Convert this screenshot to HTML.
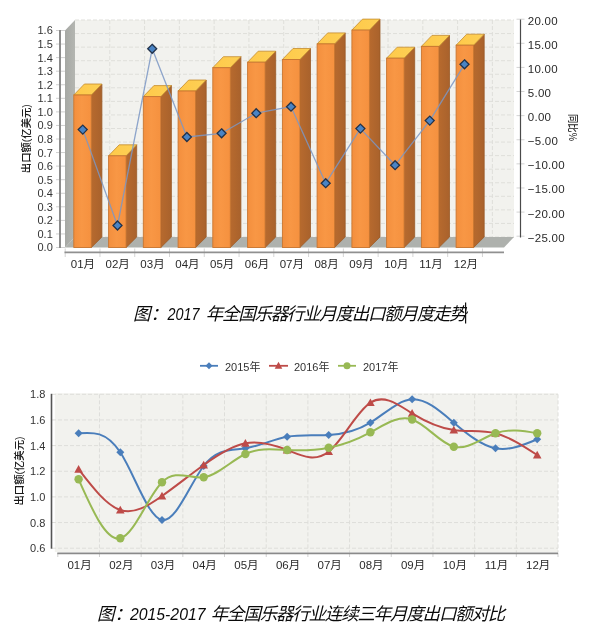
<!DOCTYPE html>
<html lang="zh"><head><meta charset="utf-8"><title>2017年全国乐器行业月度出口额</title>
<style>html,body{margin:0;padding:0;background:#fff;}body{width:600px;height:637px;overflow:hidden;}svg{display:block;}text{font-family:"Liberation Sans", "Noto Sans CJK SC", sans-serif;}</style>
</head><body>
<svg width="600" height="637" viewBox="0 0 600 637">
<defs>
<linearGradient id="gf" x1="0" y1="0" x2="1" y2="0"><stop offset="0" stop-color="#f38f3e"/><stop offset="0.45" stop-color="#f89745"/><stop offset="1" stop-color="#f5913f"/></linearGradient>
<linearGradient id="gs" x1="0" y1="0" x2="1" y2="0"><stop offset="0" stop-color="#b76a2e"/><stop offset="1" stop-color="#a9622c"/></linearGradient>
<linearGradient id="gt" x1="0" y1="0" x2="1" y2="0"><stop offset="0" stop-color="#ffc94a"/><stop offset="1" stop-color="#fdd055"/></linearGradient>
<linearGradient id="gw" x1="0" y1="0" x2="1" y2="0"><stop offset="0" stop-color="#a6a8a4"/><stop offset="1" stop-color="#b4b6b1"/></linearGradient>
</defs>
<rect width="600" height="637" fill="#ffffff"/>
<g id="chart1">
<rect x="75" y="20" width="439" height="217" fill="#f2f2ee"/>
<path d="M75 20.00H514M75 33.56H514M75 47.12H514M75 60.69H514M75 74.25H514M75 87.81H514M75 101.38H514M75 114.94H514M75 128.50H514M75 142.06H514M75 155.62H514M75 169.19H514M75 182.75H514M75 196.31H514M75 209.88H514M75 223.44H514M75 237.00H514M109.80 20V237M144.58 20V237M179.36 20V237M214.14 20V237M248.92 20V237M283.70 20V237M318.48 20V237M353.26 20V237M388.04 20V237M422.82 20V237M457.60 20V237M492.38 20V237" fill="none" stroke="#dfdfda" stroke-width="1" stroke-dasharray="4 2"/>
<polygon points="65,30.5 75,20 75,237 65,247.5" fill="url(#gw)"/>
<polygon points="65,247.5 75,237 514,237 504,247.5" fill="#aeb1ad"/>
<polygon points="91.3,95 101.9,84.0 101.9,237.0 91.3,247.5" fill="url(#gs)" stroke="#9a5a27" stroke-width="0.8"/>
<polygon points="73.8,95 84.4,84.0 101.9,84.0 91.3,95" fill="url(#gt)" stroke="#c48c2e" stroke-width="0.8"/>
<rect x="73.8" y="95" width="17.5" height="152.5" fill="url(#gf)" stroke="#c87630" stroke-width="0.9"/>
<polygon points="126.1,155.8 136.7,144.8 136.7,237.0 126.1,247.5" fill="url(#gs)" stroke="#9a5a27" stroke-width="0.8"/>
<polygon points="108.6,155.8 119.2,144.8 136.7,144.8 126.1,155.8" fill="url(#gt)" stroke="#c48c2e" stroke-width="0.8"/>
<rect x="108.6" y="155.8" width="17.5" height="91.7" fill="url(#gf)" stroke="#c87630" stroke-width="0.9"/>
<polygon points="160.8,96.6 171.4,85.6 171.4,237.0 160.8,247.5" fill="url(#gs)" stroke="#9a5a27" stroke-width="0.8"/>
<polygon points="143.3,96.6 153.9,85.6 171.4,85.6 160.8,96.6" fill="url(#gt)" stroke="#c48c2e" stroke-width="0.8"/>
<rect x="143.3" y="96.6" width="17.5" height="150.9" fill="url(#gf)" stroke="#c87630" stroke-width="0.9"/>
<polygon points="195.6,91 206.2,80.0 206.2,237.0 195.6,247.5" fill="url(#gs)" stroke="#9a5a27" stroke-width="0.8"/>
<polygon points="178.1,91 188.7,80.0 206.2,80.0 195.6,91" fill="url(#gt)" stroke="#c48c2e" stroke-width="0.8"/>
<rect x="178.1" y="91" width="17.5" height="156.5" fill="url(#gf)" stroke="#c87630" stroke-width="0.9"/>
<polygon points="230.3,67.7 240.9,56.7 240.9,237.0 230.3,247.5" fill="url(#gs)" stroke="#9a5a27" stroke-width="0.8"/>
<polygon points="212.8,67.7 223.4,56.7 240.9,56.7 230.3,67.7" fill="url(#gt)" stroke="#c48c2e" stroke-width="0.8"/>
<rect x="212.8" y="67.7" width="17.5" height="179.8" fill="url(#gf)" stroke="#c87630" stroke-width="0.9"/>
<polygon points="265.1,62.2 275.7,51.2 275.7,237.0 265.1,247.5" fill="url(#gs)" stroke="#9a5a27" stroke-width="0.8"/>
<polygon points="247.6,62.2 258.2,51.2 275.7,51.2 265.1,62.2" fill="url(#gt)" stroke="#c48c2e" stroke-width="0.8"/>
<rect x="247.6" y="62.2" width="17.5" height="185.3" fill="url(#gf)" stroke="#c87630" stroke-width="0.9"/>
<polygon points="299.9,59.5 310.5,48.5 310.5,237.0 299.9,247.5" fill="url(#gs)" stroke="#9a5a27" stroke-width="0.8"/>
<polygon points="282.4,59.5 293.0,48.5 310.5,48.5 299.9,59.5" fill="url(#gt)" stroke="#c48c2e" stroke-width="0.8"/>
<rect x="282.4" y="59.5" width="17.5" height="188.0" fill="url(#gf)" stroke="#c87630" stroke-width="0.9"/>
<polygon points="334.6,43.9 345.2,32.9 345.2,237.0 334.6,247.5" fill="url(#gs)" stroke="#9a5a27" stroke-width="0.8"/>
<polygon points="317.1,43.9 327.7,32.9 345.2,32.9 334.6,43.9" fill="url(#gt)" stroke="#c48c2e" stroke-width="0.8"/>
<rect x="317.1" y="43.9" width="17.5" height="203.6" fill="url(#gf)" stroke="#c87630" stroke-width="0.9"/>
<polygon points="369.4,30.1 380.0,19.1 380.0,237.0 369.4,247.5" fill="url(#gs)" stroke="#9a5a27" stroke-width="0.8"/>
<polygon points="351.9,30.1 362.5,19.1 380.0,19.1 369.4,30.1" fill="url(#gt)" stroke="#c48c2e" stroke-width="0.8"/>
<rect x="351.9" y="30.1" width="17.5" height="217.4" fill="url(#gf)" stroke="#c87630" stroke-width="0.9"/>
<polygon points="404.1,58.2 414.7,47.2 414.7,237.0 404.1,247.5" fill="url(#gs)" stroke="#9a5a27" stroke-width="0.8"/>
<polygon points="386.6,58.2 397.2,47.2 414.7,47.2 404.1,58.2" fill="url(#gt)" stroke="#c48c2e" stroke-width="0.8"/>
<rect x="386.6" y="58.2" width="17.5" height="189.3" fill="url(#gf)" stroke="#c87630" stroke-width="0.9"/>
<polygon points="438.9,46.4 449.5,35.4 449.5,237.0 438.9,247.5" fill="url(#gs)" stroke="#9a5a27" stroke-width="0.8"/>
<polygon points="421.4,46.4 432.0,35.4 449.5,35.4 438.9,46.4" fill="url(#gt)" stroke="#c48c2e" stroke-width="0.8"/>
<rect x="421.4" y="46.4" width="17.5" height="201.1" fill="url(#gf)" stroke="#c87630" stroke-width="0.9"/>
<polygon points="473.6,45.2 484.2,34.2 484.2,237.0 473.6,247.5" fill="url(#gs)" stroke="#9a5a27" stroke-width="0.8"/>
<polygon points="456.1,45.2 466.7,34.2 484.2,34.2 473.6,45.2" fill="url(#gt)" stroke="#c48c2e" stroke-width="0.8"/>
<rect x="456.1" y="45.2" width="17.5" height="202.3" fill="url(#gf)" stroke="#c87630" stroke-width="0.9"/>
<polyline points="82.8,129.6 117.5,225.5 152.2,48.8 186.9,137 221.6,133.3 256.2,113.2 291.0,106.7 325.7,183.2 360.4,128.6 395.1,165.2 429.8,120.6 464.5,64.3" fill="none" stroke="#7b96c4" stroke-opacity="0.85" stroke-width="1.3" stroke-linejoin="round"/>
<polygon points="82.8,125.1 87.2,129.6 82.8,134.1 78.2,129.6" fill="#4a84c4" stroke="#22324a" stroke-width="1.3"/>
<polygon points="117.5,221.0 122.0,225.5 117.5,230.0 113.0,225.5" fill="#4a84c4" stroke="#22324a" stroke-width="1.3"/>
<polygon points="152.2,44.3 156.7,48.8 152.2,53.3 147.7,48.8" fill="#4a84c4" stroke="#22324a" stroke-width="1.3"/>
<polygon points="186.9,132.5 191.4,137 186.9,141.5 182.4,137" fill="#4a84c4" stroke="#22324a" stroke-width="1.3"/>
<polygon points="221.6,128.8 226.1,133.3 221.6,137.8 217.1,133.3" fill="#4a84c4" stroke="#22324a" stroke-width="1.3"/>
<polygon points="256.2,108.7 260.8,113.2 256.2,117.7 251.8,113.2" fill="#4a84c4" stroke="#22324a" stroke-width="1.3"/>
<polygon points="291.0,102.2 295.5,106.7 291.0,111.2 286.5,106.7" fill="#4a84c4" stroke="#22324a" stroke-width="1.3"/>
<polygon points="325.7,178.7 330.2,183.2 325.7,187.7 321.2,183.2" fill="#4a84c4" stroke="#22324a" stroke-width="1.3"/>
<polygon points="360.4,124.1 364.9,128.6 360.4,133.1 355.9,128.6" fill="#4a84c4" stroke="#22324a" stroke-width="1.3"/>
<polygon points="395.1,160.7 399.6,165.2 395.1,169.7 390.6,165.2" fill="#4a84c4" stroke="#22324a" stroke-width="1.3"/>
<polygon points="429.8,116.1 434.2,120.6 429.8,125.1 425.2,120.6" fill="#4a84c4" stroke="#22324a" stroke-width="1.3"/>
<polygon points="464.5,59.8 469.0,64.3 464.5,68.8 460.0,64.3" fill="#4a84c4" stroke="#22324a" stroke-width="1.3"/>
<path d="M56 30.50H65M56 44.06H65M56 57.62H65M56 71.19H65M56 84.75H65M56 98.31H65M56 111.88H65M56 125.44H65M56 139.00H65M56 152.56H65M56 166.12H65M56 179.69H65M56 193.25H65M56 206.81H65M56 220.38H65M56 233.94H65M56 247.50H65" stroke="#d0d0d0" stroke-width="1" fill="none"/>
<line x1="60" y1="30.0" x2="60" y2="248.0" stroke="#8c8c8c" stroke-width="2"/>
<text x="52.8" y="34.4" font-size="11" text-anchor="end" fill="#333">1.6</text>
<text x="52.8" y="48.0" font-size="11" text-anchor="end" fill="#333">1.5</text>
<text x="52.8" y="61.5" font-size="11" text-anchor="end" fill="#333">1.4</text>
<text x="52.8" y="75.1" font-size="11" text-anchor="end" fill="#333">1.3</text>
<text x="52.8" y="88.7" font-size="11" text-anchor="end" fill="#333">1.2</text>
<text x="52.8" y="102.2" font-size="11" text-anchor="end" fill="#333">1.1</text>
<text x="52.8" y="115.8" font-size="11" text-anchor="end" fill="#333">1.0</text>
<text x="52.8" y="129.3" font-size="11" text-anchor="end" fill="#333">0.9</text>
<text x="52.8" y="142.9" font-size="11" text-anchor="end" fill="#333">0.8</text>
<text x="52.8" y="156.5" font-size="11" text-anchor="end" fill="#333">0.7</text>
<text x="52.8" y="170.0" font-size="11" text-anchor="end" fill="#333">0.6</text>
<text x="52.8" y="183.6" font-size="11" text-anchor="end" fill="#333">0.5</text>
<text x="52.8" y="197.2" font-size="11" text-anchor="end" fill="#333">0.4</text>
<text x="52.8" y="210.7" font-size="11" text-anchor="end" fill="#333">0.3</text>
<text x="52.8" y="224.3" font-size="11" text-anchor="end" fill="#333">0.2</text>
<text x="52.8" y="237.8" font-size="11" text-anchor="end" fill="#333">0.1</text>
<text x="52.8" y="251.4" font-size="11" text-anchor="end" fill="#333">0.0</text>
<path d="M65.20 248.5V257M99.97 248.5V257M134.74 248.5V257M169.51 248.5V257M204.28 248.5V257M239.05 248.5V257M273.82 248.5V257M308.59 248.5V257M343.36 248.5V257M378.13 248.5V257M412.90 248.5V257M447.67 248.5V257M482.44 248.5V257" stroke="#d4d4d4" stroke-width="1" fill="none"/>
<line x1="64.5" y1="252.3" x2="504" y2="252.3" stroke="#909090" stroke-width="1.7"/>
<text x="82.9" y="268" font-size="11.5" text-anchor="middle" fill="#2a2a2a">01月</text>
<text x="117.7" y="268" font-size="11.5" text-anchor="middle" fill="#2a2a2a">02月</text>
<text x="152.5" y="268" font-size="11.5" text-anchor="middle" fill="#2a2a2a">03月</text>
<text x="187.4" y="268" font-size="11.5" text-anchor="middle" fill="#2a2a2a">04月</text>
<text x="222.2" y="268" font-size="11.5" text-anchor="middle" fill="#2a2a2a">05月</text>
<text x="257.0" y="268" font-size="11.5" text-anchor="middle" fill="#2a2a2a">06月</text>
<text x="291.8" y="268" font-size="11.5" text-anchor="middle" fill="#2a2a2a">07月</text>
<text x="326.6" y="268" font-size="11.5" text-anchor="middle" fill="#2a2a2a">08月</text>
<text x="361.5" y="268" font-size="11.5" text-anchor="middle" fill="#2a2a2a">09月</text>
<text x="396.3" y="268" font-size="11.5" text-anchor="middle" fill="#2a2a2a">10月</text>
<text x="431.1" y="268" font-size="11.5" text-anchor="middle" fill="#2a2a2a">11月</text>
<text x="465.9" y="268" font-size="11.5" text-anchor="middle" fill="#2a2a2a">12月</text>
<path d="M516.5 19.20H524.5M516.5 43.31H524.5M516.5 67.42H524.5M516.5 91.53H524.5M516.5 115.64H524.5M516.5 139.76H524.5M516.5 163.87H524.5M516.5 187.98H524.5M516.5 212.09H524.5M516.5 236.20H524.5" stroke="#d4d4d4" stroke-width="1" fill="none"/>
<line x1="520.5" y1="19.5" x2="520.5" y2="237.5" stroke="#4a4a4a" stroke-width="1.2"/>
<text x="527.8" y="24.6" font-size="11.5" letter-spacing="0.25" fill="#2a2a2a">20.00</text>
<text x="527.8" y="48.7" font-size="11.5" letter-spacing="0.25" fill="#2a2a2a">15.00</text>
<text x="527.8" y="72.8" font-size="11.5" letter-spacing="0.25" fill="#2a2a2a">10.00</text>
<text x="527.8" y="97.0" font-size="11.5" letter-spacing="0.25" fill="#2a2a2a">5.00</text>
<text x="527.8" y="121.1" font-size="11.5" letter-spacing="0.25" fill="#2a2a2a">0.00</text>
<text x="527.8" y="145.2" font-size="11.5" letter-spacing="0.25" fill="#2a2a2a">−5.00</text>
<text x="527.8" y="169.3" font-size="11.5" letter-spacing="0.25" fill="#2a2a2a">−10.00</text>
<text x="527.8" y="193.4" font-size="11.5" letter-spacing="0.25" fill="#2a2a2a">−15.00</text>
<text x="527.8" y="217.6" font-size="11.5" letter-spacing="0.25" fill="#2a2a2a">−20.00</text>
<text x="527.8" y="241.7" font-size="11.5" letter-spacing="0.25" fill="#2a2a2a">−25.00</text>
<text transform="translate(29.9,138.7) rotate(-90)" font-size="10.5" font-weight="500" text-anchor="middle" fill="#1a1a1a" textLength="69" lengthAdjust="spacingAndGlyphs">出口额(亿美元)</text>
<text transform="translate(568.6,127.5) rotate(90)" font-size="10" font-weight="500" text-anchor="middle" fill="#1a1a1a" textLength="27" lengthAdjust="spacingAndGlyphs">同比%</text>
</g>
<g id="caption1" font-style="italic" fill="#0a0a0a">
<text x="133" y="320.2" font-size="17.5">图：</text>
<text x="167.5" y="319.6" font-size="16.5" textLength="32" lengthAdjust="spacingAndGlyphs">2017</text>
<text x="205.7" y="320.2" font-size="17.5" textLength="261" lengthAdjust="spacing">年全国乐器行业月度出口额月度走势</text>
</g>
<rect x="465" y="302.5" width="1.2" height="21" fill="#111"/>
<g id="chart2">
<rect x="54.8" y="393.3" width="503.2" height="158.7" fill="#f2f2ee"/>
<path d="M52 394.30H558M52 419.95H558M52 445.60H558M52 471.25H558M52 496.90H558M52 522.55H558M52 548.20H558M99.48 394.3V552.5M141.17 394.3V552.5M182.85 394.3V552.5M224.53 394.3V552.5M266.22 394.3V552.5M307.90 394.3V552.5M349.58 394.3V552.5M391.27 394.3V552.5M432.95 394.3V552.5M474.63 394.3V552.5M516.32 394.3V552.5M558.00 394.3V552.5" fill="none" stroke="#dededa" stroke-width="1" stroke-dasharray="4 2"/>
<line x1="51.5" y1="393.8" x2="51.5" y2="548.7" stroke="#555" stroke-width="1.6"/>
<path d="M57.80 553V557M99.48 553V557M141.17 553V557M182.85 553V557M224.53 553V557M266.22 553V557M307.90 553V557M349.58 553V557M391.27 553V557M432.95 553V557M474.63 553V557M516.32 553V557M558.00 553V557" stroke="#d0d0d0" stroke-width="1" fill="none"/>
<line x1="57.3" y1="553.3" x2="558" y2="553.3" stroke="#8a8a8a" stroke-width="1.8"/>
<text x="45.4" y="398.2" font-size="11" text-anchor="end" fill="#333">1.8</text>
<text x="45.4" y="423.9" font-size="11" text-anchor="end" fill="#333">1.6</text>
<text x="45.4" y="449.5" font-size="11" text-anchor="end" fill="#333">1.4</text>
<text x="45.4" y="475.1" font-size="11" text-anchor="end" fill="#333">1.2</text>
<text x="45.4" y="500.8" font-size="11" text-anchor="end" fill="#333">1.0</text>
<text x="45.4" y="526.5" font-size="11" text-anchor="end" fill="#333">0.8</text>
<text x="45.4" y="552.1" font-size="11" text-anchor="end" fill="#333">0.6</text>
<text x="79.6" y="569.4" font-size="11.5" text-anchor="middle" fill="#2a2a2a">01月</text>
<text x="121.3" y="569.4" font-size="11.5" text-anchor="middle" fill="#2a2a2a">02月</text>
<text x="163.0" y="569.4" font-size="11.5" text-anchor="middle" fill="#2a2a2a">03月</text>
<text x="204.7" y="569.4" font-size="11.5" text-anchor="middle" fill="#2a2a2a">04月</text>
<text x="246.4" y="569.4" font-size="11.5" text-anchor="middle" fill="#2a2a2a">05月</text>
<text x="288.1" y="569.4" font-size="11.5" text-anchor="middle" fill="#2a2a2a">06月</text>
<text x="329.7" y="569.4" font-size="11.5" text-anchor="middle" fill="#2a2a2a">07月</text>
<text x="371.4" y="569.4" font-size="11.5" text-anchor="middle" fill="#2a2a2a">08月</text>
<text x="413.1" y="569.4" font-size="11.5" text-anchor="middle" fill="#2a2a2a">09月</text>
<text x="454.8" y="569.4" font-size="11.5" text-anchor="middle" fill="#2a2a2a">10月</text>
<text x="496.5" y="569.4" font-size="11.5" text-anchor="middle" fill="#2a2a2a">11月</text>
<text x="538.2" y="569.4" font-size="11.5" text-anchor="middle" fill="#2a2a2a">12月</text>
<text transform="translate(22.9,471) rotate(-90)" font-size="10.5" font-weight="500" text-anchor="middle" fill="#1a1a1a" textLength="69" lengthAdjust="spacingAndGlyphs">出口额(亿美元)</text>
<path d="M78.6 433.3C92.5 432.1 106.4 431.0 120.3 452.3C134.2 473.6 148.1 517.4 162.0 520.0C175.9 522.6 189.8 484.0 203.7 466.0C217.6 448.0 231.5 450.5 245.4 448.3C259.3 446.1 273.2 439.3 287.1 436.7C301.0 434.1 314.8 435.7 328.7 435.0C342.6 434.3 356.5 431.2 370.4 422.7C384.3 414.2 398.2 400.1 412.1 399.3C426.0 398.5 439.9 410.9 453.8 422.7C467.7 434.5 481.6 445.6 495.5 448.3C509.4 451.0 523.3 445.1 537.2 439.3" fill="none" stroke="#4a7ebb" stroke-width="2" stroke-linecap="round"/>
<polygon points="78.6,429.3 82.6,433.3 78.6,437.3 74.6,433.3" fill="#4a7ebb"/>
<polygon points="120.3,448.3 124.3,452.3 120.3,456.3 116.3,452.3" fill="#4a7ebb"/>
<polygon points="162.0,516 166.0,520 162.0,524 158.0,520" fill="#4a7ebb"/>
<polygon points="203.7,462 207.7,466 203.7,470 199.7,466" fill="#4a7ebb"/>
<polygon points="245.4,444.3 249.4,448.3 245.4,452.3 241.4,448.3" fill="#4a7ebb"/>
<polygon points="287.1,432.7 291.1,436.7 287.1,440.7 283.1,436.7" fill="#4a7ebb"/>
<polygon points="328.7,431 332.7,435 328.7,439 324.7,435" fill="#4a7ebb"/>
<polygon points="370.4,418.7 374.4,422.7 370.4,426.7 366.4,422.7" fill="#4a7ebb"/>
<polygon points="412.1,395.3 416.1,399.3 412.1,403.3 408.1,399.3" fill="#4a7ebb"/>
<polygon points="453.8,418.7 457.8,422.7 453.8,426.7 449.8,422.7" fill="#4a7ebb"/>
<polygon points="495.5,444.3 499.5,448.3 495.5,452.3 491.5,448.3" fill="#4a7ebb"/>
<polygon points="537.2,435.3 541.2,439.3 537.2,443.3 533.2,439.3" fill="#4a7ebb"/>
<path d="M78.6 469.3C92.5 487.3 106.4 505.4 120.3 510.0C134.2 514.6 148.1 505.9 162.0 496.0C175.9 486.1 189.8 475.0 203.7 465.0C217.6 455.0 231.5 445.9 245.4 443.3C259.3 440.7 273.2 444.5 287.1 450.0C301.0 455.5 314.8 462.6 328.7 451.7C342.6 440.8 356.5 411.7 370.4 402.7C384.3 393.7 398.2 404.7 412.1 413.3C426.0 421.9 439.9 428.0 453.8 430.0C467.7 432.0 481.6 429.8 495.5 433.3C509.4 436.8 523.3 445.9 537.2 455.0" fill="none" stroke="#be4b48" stroke-width="2" stroke-linecap="round"/>
<polygon points="78.6,465.0 82.9,472.7 74.3,472.7" fill="#be4b48"/>
<polygon points="120.3,505.7 124.6,513.4 116.0,513.4" fill="#be4b48"/>
<polygon points="162.0,491.7 166.3,499.4 157.7,499.4" fill="#be4b48"/>
<polygon points="203.7,460.7 208.0,468.4 199.4,468.4" fill="#be4b48"/>
<polygon points="245.4,439.0 249.7,446.7 241.1,446.7" fill="#be4b48"/>
<polygon points="287.1,445.7 291.4,453.4 282.8,453.4" fill="#be4b48"/>
<polygon points="328.7,447.4 333.0,455.1 324.4,455.1" fill="#be4b48"/>
<polygon points="370.4,398.4 374.7,406.1 366.1,406.1" fill="#be4b48"/>
<polygon points="412.1,409.0 416.4,416.7 407.8,416.7" fill="#be4b48"/>
<polygon points="453.8,425.7 458.1,433.4 449.5,433.4" fill="#be4b48"/>
<polygon points="495.5,429.0 499.8,436.7 491.2,436.7" fill="#be4b48"/>
<polygon points="537.2,450.7 541.5,458.4 532.9,458.4" fill="#be4b48"/>
<path d="M78.6 479.3C92.5 510.6 106.4 541.9 120.3 538.3C134.2 534.7 148.1 496.2 162.0 482.3C175.9 468.4 189.8 479.3 203.7 477.3C217.6 475.3 231.5 460.5 245.4 454.0C259.3 447.5 273.2 449.3 287.1 450.0C301.0 450.7 314.8 450.4 328.7 447.7C342.6 445.0 356.5 439.8 370.4 432.3C384.3 424.8 398.2 414.9 412.1 419.5C426.0 424.1 439.9 443.2 453.8 446.7C467.7 450.2 481.6 438.1 495.5 433.3C509.4 428.5 523.3 430.9 537.2 433.3" fill="none" stroke="#98b954" stroke-width="2" stroke-linecap="round"/>
<circle cx="78.6" cy="479.3" r="4.2" fill="#98b954"/>
<circle cx="120.3" cy="538.3" r="4.2" fill="#98b954"/>
<circle cx="162.0" cy="482.3" r="4.2" fill="#98b954"/>
<circle cx="203.7" cy="477.3" r="4.2" fill="#98b954"/>
<circle cx="245.4" cy="454" r="4.2" fill="#98b954"/>
<circle cx="287.1" cy="450" r="4.2" fill="#98b954"/>
<circle cx="328.7" cy="447.7" r="4.2" fill="#98b954"/>
<circle cx="370.4" cy="432.3" r="4.2" fill="#98b954"/>
<circle cx="412.1" cy="419.5" r="4.2" fill="#98b954"/>
<circle cx="453.8" cy="446.7" r="4.2" fill="#98b954"/>
<circle cx="495.5" cy="433.3" r="4.2" fill="#98b954"/>
<circle cx="537.2" cy="433.3" r="4.2" fill="#98b954"/>
<line x1="200" y1="365.8" x2="218" y2="365.8" stroke="#4a7ebb" stroke-width="1.8"/>
<polygon points="209,362.3 212.5,365.8 209,369.3 205.5,365.8" fill="#4a7ebb"/>
<text x="225" y="371.2" font-size="11" fill="#333">2015年</text>
<line x1="269" y1="365.8" x2="288" y2="365.8" stroke="#be4b48" stroke-width="1.8"/>
<polygon points="278.5,361.8 282.3,368.8 274.7,368.8" fill="#be4b48"/>
<text x="294" y="371.2" font-size="11" fill="#333">2016年</text>
<line x1="338" y1="365.8" x2="356" y2="365.8" stroke="#98b954" stroke-width="1.8"/>
<circle cx="347" cy="365.8" r="3.5" fill="#98b954"/>
<text x="363" y="371.2" font-size="11" fill="#333">2017年</text>
</g>
<g id="caption2" font-style="italic" fill="#0a0a0a">
<text x="97" y="620.4" font-size="17.5">图：</text>
<text x="130" y="620" font-size="16.5" textLength="75.5" lengthAdjust="spacingAndGlyphs">2015-2017</text>
<text x="210.8" y="620.4" font-size="17.5" textLength="294.5" lengthAdjust="spacing">年全国乐器行业连续三年月度出口额对比</text>
</g>
</svg>
</body></html>
